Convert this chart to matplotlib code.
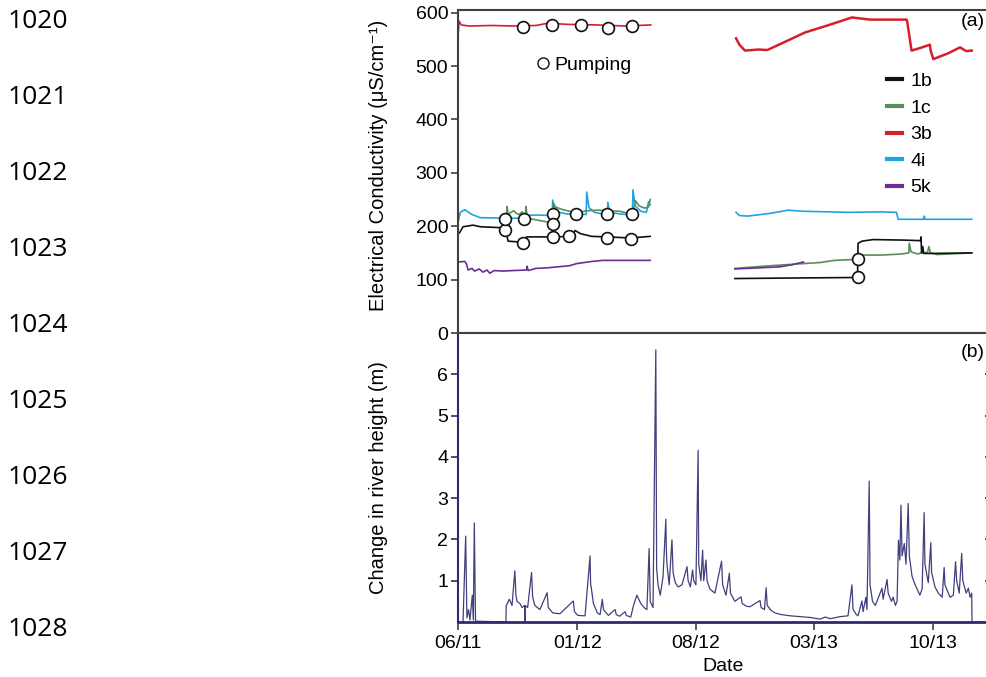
import numpy as np
import matplotlib
matplotlib.use("Agg")
import matplotlib.pyplot as plt
from matplotlib.lines import Line2D

plt.rcParams['font.family'] = ['Liberation Sans', 'DejaVu Sans']

START = np.datetime64('2011-06-01')

# ---------------- data (days since 2011-06-01, values) ----------------
# Well 1b (black)
b1_days_1 = [0, 3, 9, 27, 40, 84, 86, 90, 117, 122, 123, 170, 205, 210, 220, 240, 267, 311, 345]
b1_vals_1 = [186, 188, 199, 202, 199, 197, 190, 172, 170, 170, 180, 180, 181, 192, 186, 181, 180, 178, 181]
b1_days_2 = [497, 600, 716, 717, 718, 725, 745, 800, 830, 831, 832, 834, 836, 850, 922]
b1_vals_2 = [102, 103, 104, 104, 168, 172, 175, 174, 173, 180, 150, 162, 149, 149, 150]

# Well 1c (green)
c1_days_1 = [84, 86, 87, 88, 90, 95, 100, 105, 110, 115, 119, 121, 122, 124, 130, 140, 150, 160, 170,
             171, 175, 185, 200, 215, 230, 250, 270, 290, 311, 313, 318, 325, 335, 342, 345]
c1_vals_1 = [218, 224, 220, 237, 222, 226, 229, 224, 222, 227, 220, 224, 237, 218, 214, 212, 210, 208, 205,
             243, 236, 232, 228, 225, 229, 230, 229, 228, 223, 222, 248, 238, 234, 236, 250]
c1_days_2 = [497, 560, 620, 650, 675, 716, 718, 728, 760, 796, 809, 810, 813, 825, 832, 838, 843, 845, 848, 860, 922]
c1_vals_2 = [121, 126, 130, 132, 136, 138, 140, 146, 146, 148, 150, 168, 152, 148, 150, 150, 152, 162, 150, 147, 150]

# Well 3b (red)
r3_days_1 = [0, 2, 6, 20, 60, 100, 140, 160, 200, 250, 300, 346]
r3_vals_1 = [555, 584, 577, 575, 576, 575, 576, 580, 578, 577, 575, 577]
r3_days_2 = [499, 505, 515, 540, 555, 580, 623, 660, 707, 740, 805, 806, 814, 830, 847, 848, 853, 880, 901, 912, 922]
r3_vals_2 = [552, 540, 529, 531, 530, 542, 563, 575, 591, 587, 587, 585, 529, 534, 540, 530, 513, 524, 535, 528, 529]

# Well 4i (blue)
i4_days_1 = [0, 4, 12, 25, 40, 90, 122, 123, 140, 169, 170, 174, 182, 195, 230, 231, 235, 245,
             268, 269, 272, 290, 313, 314, 318, 328, 338, 342, 345]
i4_vals_1 = [206, 226, 231, 222, 216, 215, 215, 220, 221, 220, 249, 232, 226, 223, 222, 264, 235, 226,
             221, 245, 226, 223, 221, 268, 238, 228, 226, 246, 240]
i4_days_2 = [499, 505, 520, 560, 592, 620, 700, 760, 787, 790, 836, 837, 838, 922]
i4_vals_2 = [226, 220, 219, 224, 230, 228, 226, 227, 226, 213, 213, 219, 213, 213]

# Well 5k (purple)
k5_days_1 = [0, 12, 15, 18, 25, 30, 38, 45, 52, 57, 65, 80, 100, 123, 124, 126, 140, 160, 180, 200,
             213, 240, 260, 300, 345]
k5_vals_1 = [133, 134, 130, 118, 121, 116, 120, 114, 118, 112, 117, 116, 117, 118, 125, 117, 121, 122, 124, 126,
             130, 134, 136, 136, 136]
k5_days_2 = [497, 540, 578, 600, 620]
k5_vals_2 = [120, 122, 124, 128, 133]

# Pumping events
pump_days = [84, 117, 170, 200, 267, 311, 84, 119, 170, 170, 211, 267, 312,
             117, 169, 220, 269, 313, 717, 717]
pump_vals = [193, 169, 180, 182, 178, 177, 214, 214, 222, 204, 222, 222, 222,
             574, 577, 576, 571, 575, 138, 104]

# River height change
river_days = [0, 9, 13.8, 16, 18.9, 21.5, 25.7, 27.5, 29.3, 31.4, 86, 86.5, 92, 97, 102, 104, 106, 111, 115,
              119.5, 120, 120.5, 125, 132, 134, 138, 147, 160, 162, 170, 183, 207, 209, 215, 228, 237, 238,
              239, 243, 250, 255, 259, 261, 270, 282, 284, 290, 300, 302, 310, 315, 321, 328, 334, 339, 343,
              345, 350, 355, 356.5, 359, 363, 368, 373, 374, 375, 379, 384, 386, 390, 395, 402, 411, 413,
              417, 421, 423, 427, 431, 432, 436, 439, 441, 445, 447, 452, 461, 473, 475, 481, 487, 489, 497,
              508, 510, 518, 524, 542, 544, 550, 553, 555, 562, 569, 580, 596, 632, 650, 659, 668, 686, 700,
              707, 709, 715, 718, 725, 727, 732, 734, 738, 739.5, 744, 749, 761, 763, 770, 772, 778, 781,
              785, 788, 790.5, 793, 795, 797, 801, 804, 808, 810, 815, 820.5, 829, 833, 836.6, 838, 844,
              848.6, 850, 856, 862, 869, 872.5, 874, 883, 889, 893, 895, 899.5, 904, 906, 912, 916, 919,
              922, 922.5, 953]
river_vals = [0, 0, 2.08, 0.1, 0.3, 0.05, 0.65, 0.05, 2.40, 0.02, 0.0, 0.39, 0.55, 0.4, 1.24, 0.65, 0.5, 0.45,
              0.35, 0.4, 0.0, 0.4, 0.35, 1.2, 0.6, 0.4, 0.3, 0.71, 0.35, 0.22, 0.2, 0.51, 0.25, 0.16, 0.15,
              1.6, 0.9, 0.85, 0.45, 0.22, 0.18, 0.55, 0.3, 0.16, 0.3, 0.18, 0.14, 0.25, 0.16, 0.12, 0.4,
              0.65, 0.45, 0.35, 0.3, 1.78, 0.5, 0.35, 6.59, 1.3, 0.9, 0.65, 1.1, 2.49, 1.7, 1.4, 0.9, 1.99,
              1.2, 0.95, 0.85, 0.9, 1.34, 1.0, 0.85, 1.26, 1.0, 0.9, 4.16, 1.4, 1.0, 1.74, 1.0, 1.5, 1.0,
              0.8, 0.7, 1.47, 0.9, 0.65, 1.18, 0.7, 0.5, 0.61, 0.45, 0.38, 0.37, 0.52, 0.35, 0.3, 0.83,
              0.4, 0.28, 0.22, 0.18, 0.15, 0.11, 0.07, 0.12, 0.08, 0.13, 0.15, 0.9, 0.3, 0.18, 0.15, 0.51,
              0.25, 0.6, 0.3, 3.41, 0.9, 0.5, 0.4, 0.82, 0.55, 1.03, 0.7, 0.5, 0.6, 0.4, 0.5, 1.98, 1.5,
              2.83, 1.6, 1.9, 1.4, 2.87, 1.6, 1.1, 0.9, 0.65, 0.8, 2.65, 1.4, 0.95, 1.92, 1.2, 0.85, 0.7,
              0.6, 1.32, 0.9, 0.6, 0.65, 1.46, 1.0, 0.7, 1.66, 1.0, 0.7, 0.82, 0.6, 0.7, 0.0, 0.0]

tick_dates = ['2011-06-01', '2012-01-01', '2012-08-01', '2013-03-01', '2013-10-01']
tick_labels = ['06/11', '01/12', '08/12', '03/13', '10/13']
line_numbers = ['1020', '1021', '1022', '1023', '1024', '1025', '1026', '1027', '1028']


def to_dates(days):
    return START + np.round(np.asarray(days, dtype=float) * 24).astype('timedelta64[h]')


X_END = START + np.timedelta64(953, 'D')

# ---------------- figure ----------------
fig = plt.figure(figsize=(9.87, 6.77), dpi=100)
W, H = 987.0, 677.0
ax_a = fig.add_axes([458 / W, 1 - 333 / H, 531 / W, 323 / H])
ax_b = fig.add_axes([458 / W, 1 - 622 / H, 531 / W, 289 / H])

BLACK = '#111111'
GREEN = '#5a8c5e'
RED = '#d41f2d'
BLUE = '#1fa3e2'
PURPLE = '#6b2e94'
NAVY = '#2c2b6e'
GRAY = '#404040'

lw = 1.2
ax_a.plot(to_dates(r3_days_1), r3_vals_1, color=RED, lw=lw, label='3b')
ax_a.plot(to_dates(r3_days_2), r3_vals_2, color=RED, lw=1.8)
ax_a.plot(to_dates(i4_days_1), i4_vals_1, color=BLUE, lw=lw, label='4i')
ax_a.plot(to_dates(i4_days_2), i4_vals_2, color=BLUE, lw=lw)
ax_a.plot(to_dates(c1_days_1), c1_vals_1, color=GREEN, lw=lw, label='1c')
ax_a.plot(to_dates(c1_days_2), c1_vals_2, color=GREEN, lw=lw)
ax_a.plot(to_dates(b1_days_1), b1_vals_1, color=BLACK, lw=lw, label='1b')
ax_a.plot(to_dates(b1_days_2), b1_vals_2, color=BLACK, lw=lw)
ax_a.plot(to_dates(k5_days_1), k5_vals_1, color=PURPLE, lw=lw, label='5k')
ax_a.plot(to_dates(k5_days_2), k5_vals_2, color=PURPLE, lw=lw)
ax_a.plot(to_dates(pump_days), pump_vals, ls='none', marker='o', ms=8.5,
          mfc='white', mec='#111111', mew=1.2, zorder=5)

ax_a.set_ylim(0, 605)
ax_a.set_yticks([0, 100, 200, 300, 400, 500, 600])
ax_a.set_xlim(START, X_END)
ax_a.set_xticks([])
for s in ['left', 'top', 'bottom']:
    ax_a.spines[s].set_color(GRAY)
    ax_a.spines[s].set_linewidth(1.5)
ax_a.spines['right'].set_visible(False)
ax_a.tick_params(axis='y', direction='out', length=5, width=1.2, color=GRAY, labelsize=14, pad=2)
ax_a.set_ylabel('Electrical Conductivity (μS/cm⁻¹)', fontsize=14.5)
ax_a.yaxis.set_label_coords(-0.132, 0.52)
ax_a.text(0.992, 0.963, '(a)', transform=ax_a.transAxes, ha='right', va='center', fontsize=14)

# legends
h = {l.get_label(): l for l in ax_a.get_lines()}
order = ['1b', '1c', '3b', '4i', '5k']
leg1 = ax_a.legend([Line2D([], [], color=h[k].get_color(), lw=3) for k in order], order,
                   loc='upper left', bbox_to_anchor=(0.808, 0.806), frameon=False, fontsize=14,
                   handlelength=0.75, handletextpad=0.45, labelspacing=0.46, borderpad=0, borderaxespad=0)
ax_a.add_artist(leg1)
ax_a.legend([Line2D([], [], ls='none', marker='o', ms=8, mfc='white', mec='#111111', mew=1.0)], ['Pumping'],
            loc='center left', bbox_to_anchor=(0.149, 0.83), frameon=False, fontsize=14,
            handlelength=0.6, handletextpad=0.3, borderpad=0, borderaxespad=0)

# river panel
ax_b.plot(to_dates(river_days), river_vals, color=NAVY, lw=0.9, alpha=0.9)
ax_b.set_ylim(0, 7)
ax_b.set_yticks([1, 2, 3, 4, 5, 6])
ax_b.set_xlim(START, X_END)
ax_b.set_xticks(np.array(tick_dates, dtype='datetime64[D]'))
ax_b.set_xticklabels(tick_labels)
ax_b.spines['top'].set_color(GRAY)
ax_b.spines['top'].set_linewidth(1.5)
ax_b.spines['left'].set_color(NAVY)
ax_b.spines['left'].set_linewidth(1.5)
ax_b.spines['bottom'].set_color(NAVY)
ax_b.spines['bottom'].set_linewidth(2.0)
ax_b.spines['right'].set_visible(False)
ax_b.tick_params(axis='x', direction='out', length=6, width=1.2, color=GRAY, labelsize=14, pad=3)
ax_b.tick_params(axis='y', direction='out', length=5, width=1.2, color=NAVY, labelsize=14, pad=2,
                 right=True)
for t in ax_b.yaxis.get_major_ticks():
    t.tick2line.set_marker(matplotlib.lines.TICKLEFT)
    t.tick2line.set_markersize(3)
ax_b.set_ylabel('Change in river height (m)', fontsize=14.5)
ax_b.yaxis.set_label_coords(-0.132, 0.5)
ax_b.set_xlabel('Date', fontsize=14, labelpad=5)
ax_b.text(0.992, 0.934, '(b)', transform=ax_b.transAxes, ha='right', va='center', fontsize=14)

# manuscript line numbers
for i, s in enumerate(line_numbers):
    fig.text(8 / W, 1 - (21 + 76.1 * i) / H, s, ha='left', va='center', fontsize=19,
             family=['Open Sans', 'DejaVu Sans'])

fig.savefig('out.png', dpi=100, facecolor='white')
